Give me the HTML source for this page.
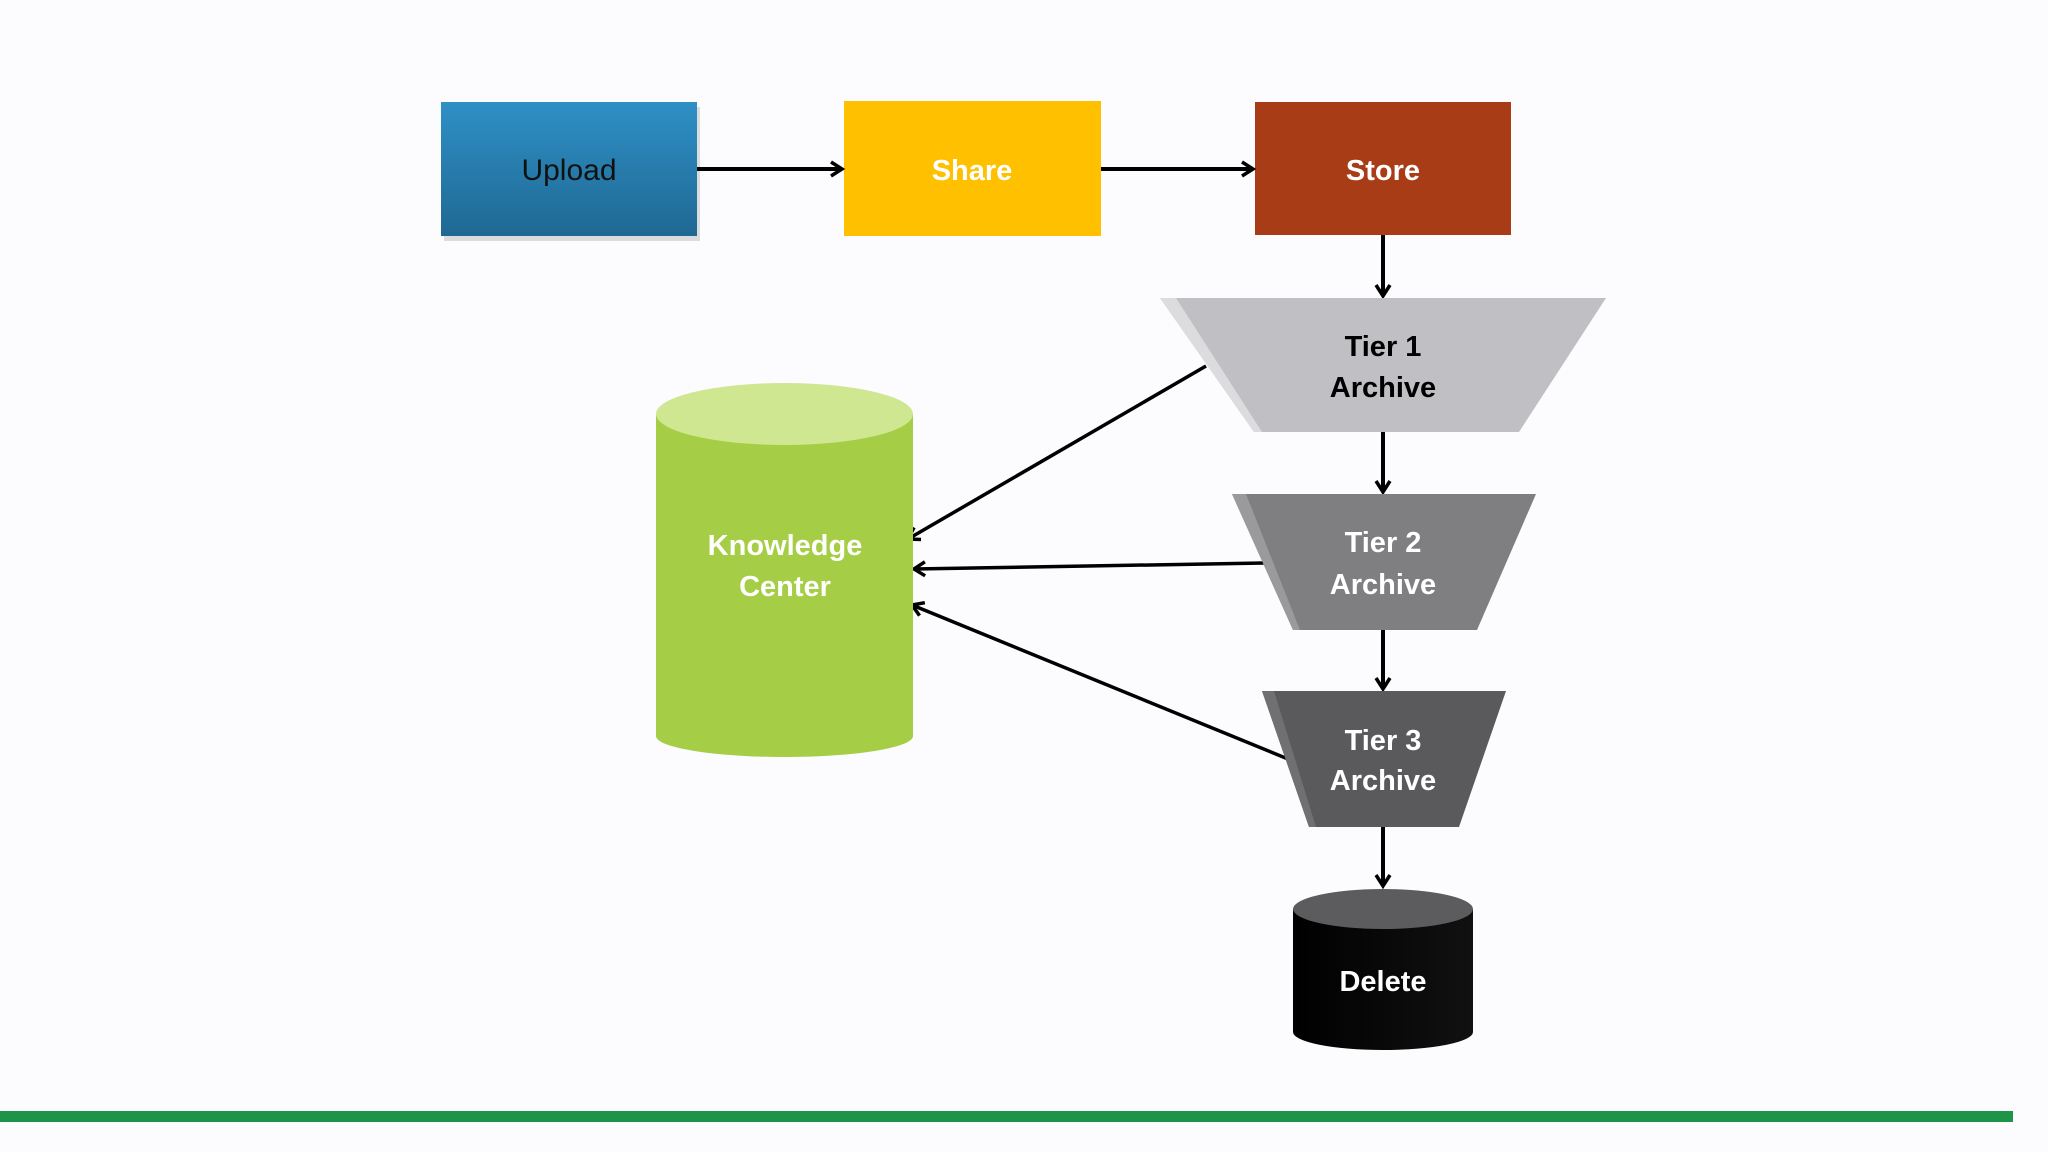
<!DOCTYPE html>
<html><head><style>
html,body{margin:0;padding:0;background:#fcfbfd;}
svg{display:block}
text{font-family:"Liberation Sans",sans-serif;font-size:30px;text-anchor:middle;}
.b{font-weight:bold;font-size:29px}
</style></head><body>
<svg width="2048" height="1152" viewBox="0 0 2048 1152" xmlns="http://www.w3.org/2000/svg">
<defs>
<linearGradient id="blue" x1="0" y1="0" x2="0" y2="1"><stop offset="0" stop-color="#2f90c6"/><stop offset="1" stop-color="#1f6893"/></linearGradient>
<linearGradient id="blk" x1="0" y1="0" x2="1" y2="0"><stop offset="0" stop-color="#000"/><stop offset="1" stop-color="#111"/></linearGradient>
<marker id="ah" markerWidth="18" markerHeight="18" refX="14" refY="9" orient="auto" markerUnits="userSpaceOnUse"><path d="M3,2 L14,9 L3,16" fill="none" stroke="#000" stroke-width="3.5"/></marker>
</defs>
<rect width="2048" height="1152" fill="#fcfbfd"/>
<rect x="444" y="107" width="256" height="134" fill="#c8c8c8" opacity="0.6"/>
<rect x="441" y="102" width="256" height="134" fill="url(#blue)"/>
<text x="569" y="180" fill="#111">Upload</text>
<rect x="844" y="101" width="257" height="135" fill="#ffc000"/>
<text class="b" x="972" y="180" fill="#fff">Share</text>
<rect x="1255" y="102" width="256" height="133" fill="#a83c17"/>
<text class="b" x="1383" y="180" fill="#fff">Store</text>
<g stroke="#000" stroke-width="4" fill="none" marker-end="url(#ah)">
<line x1="697" y1="169" x2="842" y2="169"/>
<line x1="1101" y1="169" x2="1253" y2="169"/>
<line x1="1383" y1="235" x2="1383" y2="296"/>
<line x1="1383" y1="432" x2="1383" y2="492"/>
<line x1="1383" y1="630" x2="1383" y2="689"/>
<line x1="1383" y1="827" x2="1383" y2="886"/>
</g>
<g stroke="#000" stroke-width="3.5" fill="none" marker-end="url(#ah)">
<line x1="1206" y1="366" x2="908" y2="539"/>
<line x1="1264" y1="563" x2="914" y2="569"/>
<line x1="1288" y1="759" x2="912" y2="605"/>
</g>
<polygon points="1160,298 1606,298 1519,432 1254,432" fill="#c0bfc3"/>
<polygon points="1160,298 1176,298 1262,432 1254,432" fill="#dcdcde"/>
<text class="b" x="1383" y="356" fill="#000">Tier 1</text>
<text class="b" x="1383" y="397" fill="#000">Archive</text>
<polygon points="1232,494 1536,494 1477,630 1293,630" fill="#7f7e81"/>
<polygon points="1232,494 1246,494 1300,630 1293,630" fill="#9a9a9c"/>
<text class="b" x="1383" y="552" fill="#fff">Tier 2</text>
<text class="b" x="1383" y="594" fill="#fff">Archive</text>
<polygon points="1262,691 1506,691 1459,827 1309,827" fill="#5a595c"/>
<polygon points="1262,691 1274,691 1316,827 1309,827" fill="#707072"/>
<text class="b" x="1383" y="750" fill="#fff">Tier 3</text>
<text class="b" x="1383" y="790" fill="#fff">Archive</text>
<path d="M656,414 L656,736 A128.5,21 0 0 0 913,736 L913,414 Z" fill="#a5cd45"/>
<ellipse cx="784.5" cy="414" rx="128.5" ry="31" fill="#cfe791"/>
<text class="b" x="785" y="555" fill="#fff">Knowledge</text>
<text class="b" x="785" y="596" fill="#fff">Center</text>
<path d="M1293,909 L1293,1032 A90,18 0 0 0 1473,1032 L1473,909 Z" fill="url(#blk)"/>
<ellipse cx="1383" cy="909" rx="90" ry="20" fill="#5c5c5e"/>
<text class="b" x="1383" y="991" fill="#fff">Delete</text>
<rect x="0" y="1111" width="2013" height="11" fill="#1e9448"/>
</svg>
</body></html>
